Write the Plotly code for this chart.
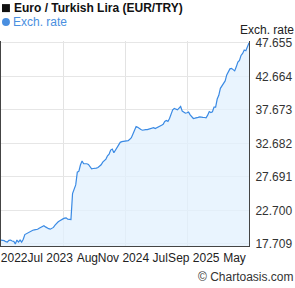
import pandas as pd
import plotly.graph_objects as go

# ---- data ----
start_date = "2022-08-19"
rates = [
    18.29, 18.29, 18.20, 18.05, 18.00, 18.25, 18.28, 18.15, 18.10, 17.709,
    18.29, 17.98, 18.29, 17.98, 18.40, 19.10, 19.25, 19.35, 19.50, 19.60,
    19.75, 19.80, 19.80, 19.90, 20.05, 20.17, 20.30, 20.42, 20.25, 20.06,
    19.98, 19.91, 20.05, 20.17, 20.50, 20.80, 21.00, 21.15, 21.35, 21.44,
    21.55, 21.60, 21.40, 21.33, 21.35, 25.20, 25.80, 26.50, 28.40, 28.55,
    29.50, 30.05, 29.66, 29.70, 29.66, 29.56, 29.30, 28.90, 28.95, 28.95,
    29.00, 29.10, 29.25, 29.50, 29.90, 30.10, 30.35, 30.85, 31.10, 31.70,
    31.85, 31.30, 31.70, 32.20, 32.60, 32.85, 32.95, 33.00, 33.00, 33.00,
    33.10, 33.30, 33.55, 34.10, 34.80, 35.20, 35.10, 34.90, 34.75, 34.65,
    34.64, 34.74, 34.75, 34.85, 34.94, 35.00, 35.04, 34.90, 35.00, 35.10,
    35.30, 35.40, 35.55, 35.95, 36.10, 35.95, 36.40, 36.95, 37.70, 37.90,
    37.80, 37.69, 37.94, 38.19, 37.50, 37.30, 37.20, 37.25, 37.35, 36.95,
    36.65, 36.40, 36.45, 36.57, 36.57, 36.65, 36.57, 36.57, 36.55, 36.50,
    36.90, 37.43, 37.30, 37.40, 38.10, 38.10, 39.30, 39.85, 40.90, 41.25,
    41.55, 42.00, 42.90, 43.50, 43.80, 43.88, 43.70, 43.50, 44.10, 44.80,
    45.05, 45.80, 46.10, 46.60, 46.50, 47.20, 47.655,
]
dates = pd.date_range(start_date, periods=len(rates), freq="7D")

y_ticks = [17.709, 22.700, 27.691, 32.682, 37.673, 42.664, 47.655]
x_grid = ["2023-05-19", "2024-02-17", "2024-11-18"]
x_tick_pos = ["2022-10-16", "2023-03-24", "2023-09-03", "2024-02-09",
              "2024-07-20", "2024-12-15", "2025-06-12"]
x_tick_text = ["2022", "Jul 2023", "Aug", "Nov 2024", "Jul", "Sep 2025", "May"]

FONT = "Liberation Sans, Arial, sans-serif"
LINE = "rgb(58,138,228)"
LEGEND_BLUE = "#4a8fe0"

fig = go.Figure()
fig.add_trace(go.Scatter(
    x=dates, y=rates, mode="lines",
    line=dict(color=LINE, width=1.2),
    fill="tozeroy", fillcolor="rgba(226,240,254,0.75)",
    hoverinfo="skip", showlegend=False,
))

fig.update_layout(
    width=295, height=288,
    margin=dict(l=1, r=46, t=41, b=42),
    paper_bgcolor="white", plot_bgcolor="white",
    font=dict(family=FONT, size=12, color="#333"),
    showlegend=False,
    xaxis=dict(
        type="date",
        range=[dates[0], dates[-1]],
        tickmode="array", tickvals=x_tick_pos, ticktext=x_tick_text,
        tickangle=0, ticks="", showgrid=False,
        ticklabeloverflow="allow", ticklabelstandoff=1,
        tickfont=dict(family=FONT, size=12, color="#222"),
        showline=True, linecolor="#444", linewidth=1,
        zeroline=False,
        minor=dict(tickmode="array", tickvals=x_grid, showgrid=True,
                   gridcolor="#e3e3e3", gridwidth=1, ticks=""),
    ),
    yaxis=dict(
        side="right",
        range=[17.4, 47.95],
        tickmode="array", tickvals=y_ticks,
        ticktext=[f"{v:.3f}" for v in y_ticks],
        ticks="", ticklabelstandoff=3,
        tickfont=dict(family=FONT, size=12, color="#333"),
        showgrid=True, gridcolor="#e6e6e6", gridwidth=1,
        showline=True, linecolor="#444", linewidth=1, mirror=True,
        zeroline=False,
    ),
    shapes=[
        dict(type="rect", xref="paper", yref="paper",
             x0=0.004, x1=0.036, y0=1.141, y1=1.180,
             fillcolor="#111", line=dict(width=0)),
        dict(type="circle", xref="paper", yref="paper",
             x0=0.004, x1=0.036, y0=1.073, y1=1.112,
             fillcolor=LEGEND_BLUE, line=dict(width=0)),
    ],
    annotations=[
        dict(text="<b>Euro / Turkish Lira (EUR/TRY)</b>",
             xref="paper", yref="paper",
             x=0.046, y=1.161, xanchor="left", yanchor="middle", showarrow=False,
             font=dict(family=FONT, size=12, color="#111")),
        dict(text="Exch. rate", xref="paper", yref="paper",
             x=0.042, y=1.093, xanchor="left", yanchor="middle", showarrow=False,
             font=dict(family=FONT, size=12, color=LEGEND_BLUE)),
        dict(text="Exch. rate", xref="paper", yref="paper",
             x=1.19, y=1.054, xanchor="right", yanchor="middle", showarrow=False,
             font=dict(family=FONT, size=12, color="#222")),
        dict(text="© Chartoasis.com", xref="paper", yref="paper",
             x=1.19, y=-0.151, xanchor="right", yanchor="middle", showarrow=False,
             font=dict(family=FONT, size=12, color="#333")),
    ],
)

fig.write_html("out.html")
